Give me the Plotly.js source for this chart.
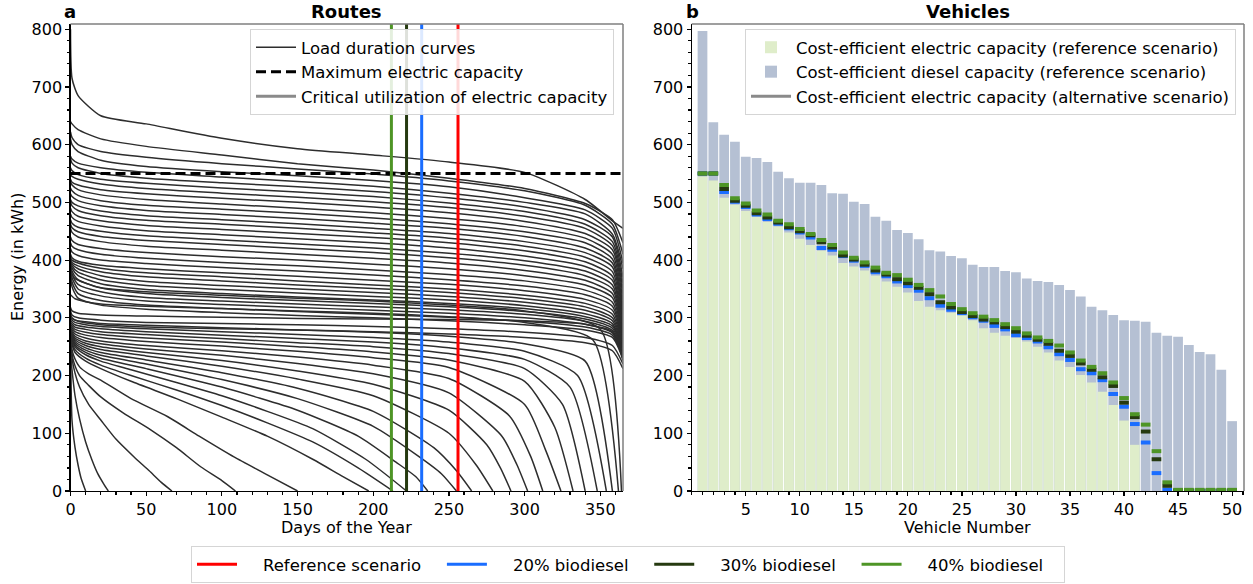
<!DOCTYPE html>
<html>
<head>
<meta charset="utf-8">
<script src="https://cdn.plot.ly/plotly-3.0.1.min.js"></script>
<style>
  html, body { margin: 0; padding: 0; background: #ffffff; }
  #chart { width: 1253px; height: 584px; }
</style>
</head>
<body>
<div id="chart"></div>
<script>
// ---------- Panel a: load duration curves of the routes ----------
// Days at which the year-round routes are sampled
const dayGrid = [0, 1, 5, 20, 50, 100, 150, 200, 250, 300, 340, 358, 365];

// Routes that need energy on every day of the year (kWh, sorted descending)
const yearRoundLoads = [
  [800, 715, 685, 650, 636, 611, 593, 582, 570, 552, 505, 468, 455],
  [640, 636, 626, 610, 597, 582, 567, 556, 542, 524, 498, 470, 430],
  [622, 612, 600, 588, 578, 567, 558, 549, 537, 520, 495, 462, 410],
  [610, 600, 588, 573, 562, 553, 546, 538, 527, 508, 487, 455, 395],
  [580, 575, 568, 560, 552, 544, 536, 528, 516, 500, 480, 445, 385],
  [575, 568, 560, 550, 542, 534, 527, 519, 508, 492, 470, 440, 370],
  [560, 555, 548, 540, 533, 525, 518, 510, 499, 484, 462, 432, 360],
  [548, 545, 540, 532, 524, 516, 509, 501, 491, 476, 455, 425, 350],
  [540, 535, 530, 522, 515, 507, 500, 492, 482, 467, 446, 418, 340],
  [535, 530, 522, 513, 505, 497, 490, 482, 472, 458, 438, 410, 330],
  [525, 520, 512, 503, 495, 488, 481, 473, 463, 449, 430, 402, 320],
  [515, 510, 503, 494, 486, 479, 472, 464, 455, 441, 421, 395, 310],
  [505, 500, 494, 485, 477, 470, 463, 455, 446, 432, 413, 388, 300],
  [500, 494, 486, 477, 469, 462, 455, 447, 438, 424, 405, 380, 290],
  [490, 484, 476, 468, 460, 453, 446, 439, 430, 416, 397, 372, 280],
  [480, 474, 467, 459, 451, 444, 437, 430, 421, 407, 389, 365, 275],
  [470, 464, 457, 450, 442, 435, 428, 421, 412, 399, 381, 357, 270],
  [462, 456, 449, 441, 434, 427, 420, 413, 404, 391, 373, 350, 265],
  [455, 448, 440, 432, 424, 417, 410, 403, 395, 382, 365, 342, 262],
  [440, 434, 427, 420, 413, 406, 400, 393, 385, 373, 357, 335, 258],
  [430, 424, 418, 410, 403, 396, 390, 383, 375, 364, 348, 327, 255],
  [420, 414, 408, 400, 394, 387, 381, 374, 366, 355, 340, 320, 252],
  [410, 404, 398, 391, 385, 378, 372, 365, 358, 347, 332, 313, 250],
  [405, 400, 395, 386, 378, 371, 364, 357, 350, 339, 325, 306, 248],
  [402, 396, 390, 380, 371, 364, 357, 351, 344, 333, 319, 300, 245],
  [400, 393, 385, 373, 363, 356, 350, 344, 337, 327, 313, 295, 243],
  [398, 390, 379, 366, 356, 349, 343, 337, 331, 321, 307, 290, 240],
  [395, 386, 373, 359, 349, 342, 336, 331, 325, 316, 302, 286, 238],
  [392, 381, 366, 352, 342, 335, 330, 325, 319, 311, 298, 282, 236],
  [390, 376, 358, 345, 335, 329, 324, 319, 314, 306, 294, 278, 234],
  [388, 370, 350, 338, 329, 323, 318, 313, 308, 300, 289, 274, 232],
  [385, 362, 342, 330, 322, 316, 311, 306, 301, 294, 284, 270, 230],
  [382, 354, 334, 322, 315, 309, 304, 300, 295, 288, 279, 266, 228],
  [318, 312, 308, 305, 303, 301, 299, 298, 297, 295, 289, 276, 226],
  [312, 305, 300, 296, 292, 290, 288, 285, 281, 275, 266, 252, 220],
  [308, 300, 294, 288, 284, 281, 279, 276, 272, 266, 257, 243, 212]
];

// Routes whose demand reaches zero before the end of the year: sample days and loads
const shortRouteDays = [
  [0, 1, 3, 5, 7, 10],
  [0, 1, 3, 6, 10, 14, 18, 22, 25],
  [0, 2, 6, 12, 20, 30, 42, 52, 60, 67],
  [0, 2, 6, 12, 20, 35, 53, 70, 86, 100, 109],
  [0, 2, 6, 12, 20, 40, 64, 85, 108, 130, 150],
  [0, 3, 10, 20, 40, 70, 100, 130, 160, 180, 197],
  [0, 3, 10, 20, 40, 70, 100, 130, 160, 190, 213],
  [0, 3, 10, 20, 40, 70, 100, 130, 160, 195, 222],
  [0, 3, 10, 20, 50, 100, 150, 190, 215, 228, 236],
  [0, 3, 10, 20, 50, 100, 150, 200, 230, 245, 255],
  [0, 3, 10, 20, 50, 100, 150, 200, 240, 255, 265],
  [0, 3, 10, 20, 50, 100, 150, 200, 250, 268, 279],
  [0, 3, 10, 20, 50, 100, 150, 200, 250, 275, 284, 291],
  [0, 3, 10, 20, 50, 100, 150, 200, 250, 285, 295, 302],
  [0, 3, 10, 20, 50, 100, 150, 200, 250, 290, 304, 312],
  [0, 3, 10, 20, 50, 100, 150, 200, 250, 300, 314, 324],
  [0, 3, 10, 20, 50, 100, 150, 200, 250, 300, 320, 332],
  [0, 3, 10, 20, 50, 100, 150, 200, 250, 300, 325, 340],
  [0, 3, 10, 20, 50, 100, 150, 200, 250, 300, 330, 348],
  [0, 3, 10, 20, 50, 100, 150, 200, 250, 300, 335, 354],
  [0, 3, 10, 20, 50, 100, 150, 200, 250, 300, 340, 358],
  [0, 3, 10, 20, 50, 100, 150, 200, 250, 300, 345, 362],
  [0, 3, 10, 20, 50, 100, 150, 200, 250, 300, 350, 364]
];
const shortRouteLoads = [
  [270, 122, 75, 45, 22, 0],
  [240, 210, 165, 125, 85, 55, 30, 12, 0],
  [250, 215, 180, 150, 123, 90, 59, 35, 15, 0],
  [255, 225, 200, 183, 163, 135, 106, 75, 42, 18, 0],
  [258, 235, 215, 203, 192, 160, 129, 95, 59, 28, 0],
  [262, 240, 225, 212, 190, 160, 128, 95, 55, 25, 0],
  [265, 245, 230, 218, 200, 175, 148, 118, 85, 40, 0],
  [268, 250, 236, 225, 210, 188, 165, 138, 108, 55, 0],
  [270, 253, 240, 230, 212, 180, 140, 95, 50, 25, 0],
  [272, 256, 244, 235, 220, 193, 160, 112, 60, 30, 0],
  [274, 259, 248, 240, 227, 205, 178, 138, 75, 35, 0],
  [276, 262, 252, 245, 234, 216, 194, 165, 100, 45, 0],
  [278, 265, 256, 250, 240, 226, 208, 185, 140, 80, 40, 0],
  [280, 268, 260, 255, 246, 235, 221, 203, 170, 95, 45, 0],
  [283, 272, 265, 260, 252, 243, 232, 218, 195, 130, 60, 0],
  [286, 276, 270, 266, 259, 251, 242, 231, 214, 150, 70, 0],
  [289, 280, 275, 271, 265, 258, 250, 241, 227, 190, 110, 0],
  [292, 284, 280, 276, 271, 264, 257, 250, 238, 212, 150, 0],
  [295, 288, 284, 281, 276, 270, 264, 258, 248, 228, 180, 0],
  [298, 292, 288, 285, 281, 276, 271, 266, 258, 242, 200, 0],
  [300, 296, 293, 290, 287, 283, 279, 275, 268, 255, 225, 0],
  [340, 333, 328, 324, 320, 316, 312, 308, 302, 292, 262, 0],
  [380, 368, 360, 352, 345, 339, 334, 329, 322, 312, 280, 0]
];

const yearSpan = [0, 365];
const maxElectricCapacity = 550;
const energyAxisTop = 809;

// Critical utilization day of the electric capacity per scenario
const scenarioNames = ['Reference scenario', '20% biodiesel', '30% biodiesel', '40% biodiesel'];
const scenarioColors = ['#ff0000', '#1a6dff', '#263a10', '#4e9526'];
const criticalDays = [256, 232, 222, 212];

// ---------- Panel b: capacities per vehicle ----------
const vehicleNumbers = [1, 2, 3, 4, 5, 6, 7, 8, 9, 10, 11, 12, 13, 14, 15, 16, 17, 18, 19, 20,
  21, 22, 23, 24, 25, 26, 27, 28, 29, 30, 31, 32, 33, 34, 35, 36, 37, 38, 39, 40,
  41, 42, 43, 44, 45, 46, 47, 48, 49, 50];
const dieselTopRef = [797, 639, 617, 605, 579, 577, 570, 553, 542, 534, 534, 530, 516, 515, 501, 497,
  475, 468, 452, 447, 436, 417, 415, 407, 403, 392, 388, 388, 381, 379, 368, 364, 362, 357, 348, 337,
  319, 313, 305, 296, 295, 293, 274, 269, 267, 253, 241, 237, 210, 121];
const electricRef = [545, 538, 508, 496, 485, 475, 466, 458, 448, 437, 426, 416, 408, 395, 389, 382,
  373, 363, 354, 344, 329, 319, 313, 309, 305, 296, 282, 274, 269, 265, 259, 250, 240, 226, 215, 201,
  188, 172, 149, 122, 80, 0, 0, 0, 0, 0, 0, 0, 0, 0];
const electricBio20 = [550, 550, 518, 501, 492, 479, 471, 463, 455, 448, 439, 421, 418, 407, 399, 390,
  379, 372, 363, 355, 347, 334, 321, 314, 308, 301, 295, 286, 280, 270, 265, 259, 249, 237, 227, 211,
  204, 192, 168, 146, 116, 84, 31, 2, 0, 0, 0, 0, 0, 0];
const electricBio30 = [550, 550, 523, 503, 494, 481, 474, 465, 457, 450, 443, 431, 422, 408, 401, 392,
  382, 375, 367, 360, 352, 341, 327, 318, 310, 303, 297, 292, 284, 276, 269, 262, 255, 243, 234, 221,
  210, 197, 182, 153, 128, 103, 55, 9, 1, 1, 1, 1, 1, 1];
const electricBio40 = [550, 550, 530, 507, 498, 486, 479, 468, 462, 454, 445, 435, 426, 413, 404, 396,
  387, 378, 374, 366, 357, 348, 337, 324, 315, 308, 302, 296, 289, 282, 273, 266, 260, 252, 240, 226,
  215, 204, 188, 161, 133, 115, 69, 15, 2, 2, 2, 2, 2, 2];

const FONT = 'DejaVu Sans, Liberation Sans, sans-serif';
const curveColor = 'rgb(45,45,45)';
const curveLine = { color: curveColor, width: 1.5, shape: 'spline', smoothing: 0.6 };
const traces = [];

// Load duration curves
yearRoundLoads.forEach((loads, i) => {
  traces.push({
    x: dayGrid, y: loads, type: 'scatter', mode: 'lines', line: curveLine,
    name: 'Load duration curves', legend: 'legend', legendgroup: 'ldc',
    showlegend: i === 0, hoverinfo: 'skip', xaxis: 'x', yaxis: 'y'
  });
});
shortRouteLoads.forEach((loads, i) => {
  traces.push({
    x: shortRouteDays[i], y: loads, type: 'scatter', mode: 'lines', line: curveLine,
    name: 'Load duration curves', legendgroup: 'ldc', showlegend: false,
    hoverinfo: 'skip', xaxis: 'x', yaxis: 'y'
  });
});

// Maximum electric capacity
traces.push({
  x: yearSpan, y: [maxElectricCapacity, maxElectricCapacity], type: 'scatter', mode: 'lines',
  line: { color: '#000000', width: 3, dash: '10px,5px' },
  name: 'Maximum electric capacity', legend: 'legend', hoverinfo: 'skip', xaxis: 'x', yaxis: 'y'
});

// Legend entry for the critical utilization lines
traces.push({
  x: [null], y: [null], type: 'scatter', mode: 'lines',
  line: { color: '#8a8a8a', width: 3 },
  name: 'Critical utilization of electric capacity', legend: 'legend', xaxis: 'x', yaxis: 'y'
});

// Critical utilization day per scenario
const NB = '\u00a0';
criticalDays.forEach((d, i) => {
  traces.push({
    x: [d, d], y: [0, energyAxisTop], type: 'scatter', mode: 'lines',
    line: { color: scenarioColors[i], width: 3 },
    name: NB.repeat(4) + scenarioNames[i] + NB.repeat(3), legend: 'legend3',
    hoverinfo: 'skip', xaxis: 'x', yaxis: 'y'
  });
});

// Panel b bars: diesel capacity on top of the electric one
traces.push({
  x: vehicleNumbers, y: dieselTopRef, type: 'bar', width: 0.9,
  marker: { color: '#b5c0d3', line: { width: 0 } },
  name: 'Cost-efficient diesel capacity (reference scenario)', legend: 'legend2', legendrank: 2,
  hoverinfo: 'skip', xaxis: 'x2', yaxis: 'y2'
});
traces.push({
  x: vehicleNumbers, y: electricRef, type: 'bar', width: 0.9,
  marker: { color: '#dfedca', line: { width: 0 } },
  name: 'Cost-efficient electric capacity (reference scenario)', legend: 'legend2', legendrank: 1,
  hoverinfo: 'skip', xaxis: 'x2', yaxis: 'y2'
});
traces.push({
  x: [null], y: [null], type: 'scatter', mode: 'lines',
  line: { color: '#8a8a8a', width: 3 },
  name: 'Cost-efficient electric capacity (alternative scenario)', legend: 'legend2', legendrank: 3,
  xaxis: 'x2', yaxis: 'y2'
});

// Electric capacity in the biodiesel scenarios
[[electricBio20, 1], [electricBio30, 2], [electricBio40, 3]].forEach(([vals, ci]) => {
  traces.push({
    x: vehicleNumbers, y: vals, type: 'scatter', mode: 'markers',
    marker: { symbol: 'line-ew', size: 6.9, color: scenarioColors[ci],
              line: { color: scenarioColors[ci], width: 4 } },
    showlegend: false, hoverinfo: 'skip', xaxis: 'x2', yaxis: 'y2'
  });
});

const axisCommon = {
  showgrid: false, zeroline: false, showline: true, linecolor: '#000000', linewidth: 1.2,
  ticks: 'outside', ticklen: 4, tickwidth: 1.2, tickcolor: '#000000',
  tickfont: { family: FONT, size: 16, color: '#000000' }
};

const xDomA = [70.5 / 1253, 623 / 1253];
const xDomB = [691.7 / 1253, 1244 / 1253];
const yDom = [1 - 491 / 584, 1 - 24 / 584];

const frameShapes = [];
[['x', 'y'], ['x2', 'y2']].forEach(([xa, ya]) => {
  frameShapes.push({ type: 'line', xref: xa + ' domain', yref: ya + ' domain', x0: 0, x1: 1, y0: 1, y1: 1,
                     line: { color: '#7f7f7f', width: 1.5 }, layer: 'above' });
  frameShapes.push({ type: 'line', xref: xa + ' domain', yref: ya + ' domain', x0: 1, x1: 1, y0: 0, y1: 1,
                     line: { color: '#7f7f7f', width: 1.5 }, layer: 'above' });
});

const legendCommon = {
  bgcolor: 'rgba(255,255,255,0.85)', bordercolor: '#d5d5d5', borderwidth: 1,
  font: { family: FONT, size: 16.5, color: '#000000' }, itemwidth: 40,
  traceorder: 'normal', tracegroupgap: 0
};

const layout = {
  width: 1253, height: 584,
  margin: { l: 0, r: 0, t: 0, b: 0 },
  paper_bgcolor: '#ffffff', plot_bgcolor: '#ffffff',
  font: { family: FONT, color: '#000000' },
  barmode: 'overlay',
  showlegend: true,
  xaxis: Object.assign({}, axisCommon, {
    domain: xDomA, range: yearSpan, tick0: 0, dtick: 50, anchor: 'y',
    minor: { dtick: 10, ticks: 'outside', ticklen: 2.5, tickcolor: '#000000', showgrid: false }
  }),
  yaxis: Object.assign({}, axisCommon, {
    domain: yDom, range: [0, energyAxisTop], tick0: 0, dtick: 100, anchor: 'x',
    minor: { dtick: 20, ticks: 'outside', ticklen: 2.5, tickcolor: '#000000', showgrid: false }
  }),
  xaxis2: Object.assign({}, axisCommon, {
    domain: xDomB, range: [0, 51.1], tickvals: [5, 10, 15, 20, 25, 30, 35, 40, 45, 50], anchor: 'y2',
    minor: { dtick: 1, tick0: 0, ticks: 'outside', ticklen: 2.5, tickcolor: '#000000', showgrid: false }
  }),
  yaxis2: Object.assign({}, axisCommon, {
    domain: yDom, range: [0, energyAxisTop], tick0: 0, dtick: 100, anchor: 'x2',
    minor: { dtick: 20, ticks: 'outside', ticklen: 2.5, tickcolor: '#000000', showgrid: false }
  }),
  legend: Object.assign({}, legendCommon, {
    x: 614 / 1253, xanchor: 'right', y: 1 - 29 / 584, yanchor: 'top'
  }),
  legend2: Object.assign({}, legendCommon, {
    x: 1236 / 1253, xanchor: 'right', y: 1 - 29 / 584, yanchor: 'top'
  }),
  legend3: Object.assign({}, legendCommon, {
    orientation: 'h', x: 628 / 1253, xanchor: 'center', y: 1 - 546 / 584, yanchor: 'top',
    bgcolor: '#ffffff', font: { family: FONT, size: 16.5, color: '#000000' }
  }),
  shapes: frameShapes,
  annotations: [
    { text: '<b>Routes</b>', x: 346.7 / 1253, y: 1 - 12 / 584, xref: 'paper', yref: 'paper',
      showarrow: false, font: { family: FONT, size: 18 }, xanchor: 'center', yanchor: 'middle' },
    { text: '<b>Vehicles</b>', x: 967.8 / 1253, y: 1 - 12 / 584, xref: 'paper', yref: 'paper',
      showarrow: false, font: { family: FONT, size: 18 }, xanchor: 'center', yanchor: 'middle' },
    { text: '<b>a</b>', x: 70 / 1253, y: 1 - 12 / 584, xref: 'paper', yref: 'paper',
      showarrow: false, font: { family: FONT, size: 18 }, xanchor: 'center', yanchor: 'middle' },
    { text: '<b>b</b>', x: 692 / 1253, y: 1 - 12 / 584, xref: 'paper', yref: 'paper',
      showarrow: false, font: { family: FONT, size: 18 }, xanchor: 'center', yanchor: 'middle' },
    { text: 'Energy (in kWh)', x: 18 / 1253, y: 1 - 257 / 584, xref: 'paper', yref: 'paper',
      showarrow: false, textangle: -90, font: { family: FONT, size: 16 }, xanchor: 'center', yanchor: 'middle' },
    { text: 'Days of the Year', x: 346.7 / 1253, y: 1 - 527 / 584, xref: 'paper', yref: 'paper',
      showarrow: false, font: { family: FONT, size: 16 }, xanchor: 'center', yanchor: 'middle' },
    { text: 'Vehicle Number', x: 967.8 / 1253, y: 1 - 527 / 584, xref: 'paper', yref: 'paper',
      showarrow: false, font: { family: FONT, size: 16 }, xanchor: 'center', yanchor: 'middle' }
  ]
};

Plotly.newPlot('chart', traces, layout, { displayModeBar: false, staticPlot: true });
</script>
</body>
</html>
